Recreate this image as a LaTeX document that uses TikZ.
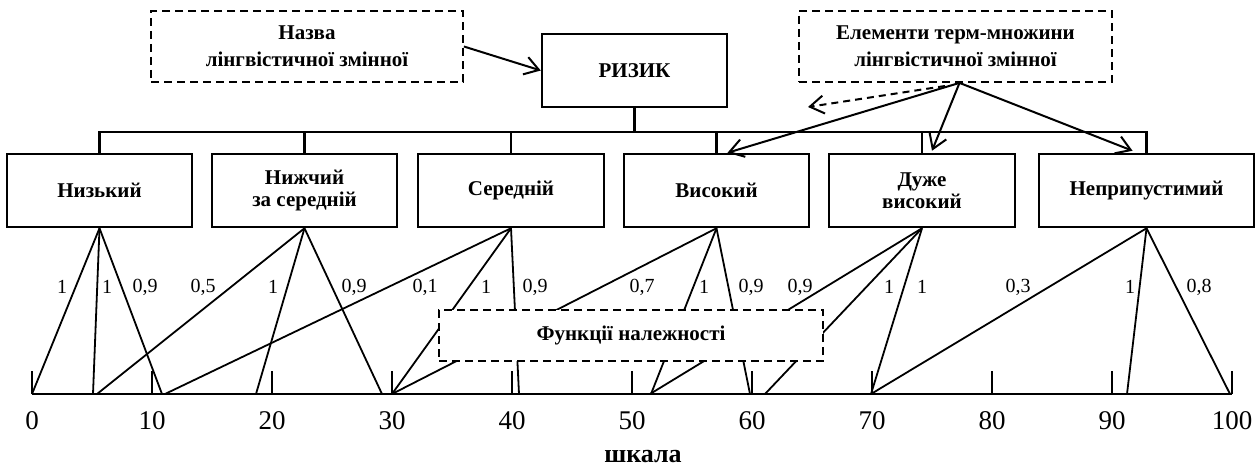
\documentclass[tikz,border=0pt]{standalone}
\usepackage{fontspec}
\setmainfont{Liberation Serif}
\usetikzlibrary{arrows.meta,calc}
\begin{document}
\begin{tikzpicture}[x=1pt,y=-1pt,
  box/.style={draw,line width=2.5pt,inner sep=0pt,align=center,font=\fontsize{21}{22}\selectfont\bfseries},
  dbox/.style={draw,dash pattern=on 8pt off 5pt,line width=1.8pt,inner sep=0pt,align=center,font=\fontsize{21}{27}\selectfont\bfseries},
  ln/.style={line width=1.8pt},
  bus/.style={line width=2.3pt},
  arr/.style={line width=2pt,-{Straight Barb[length=14pt,width=18pt,line width=2pt]}},
  lab/.style={inner sep=0pt,font=\fontsize{20}{20}\selectfont},
  num/.style={inner sep=0pt,font=\fontsize{27}{27}\selectfont},
]
\useasboundingbox (0,0) rectangle (1257,473);

% top boxes
\node[dbox,minimum width=312pt,minimum height=71pt] (nazva) at (307,46.5) {Назва\\лінгвістичної змінної};
\node[box,minimum width=185pt,minimum height=73pt] (riz) at (634.5,70.5) {РИЗИК};
\node[dbox,minimum width=313pt,minimum height=71pt] (el) at (955.5,46.5) {Елементи терм-множини\\лінгвістичної змінної};

% level boxes
\node[box,minimum width=185pt,minimum height=73pt] (n1) at (99.5,190.5) {Низький};
\node[box,minimum width=185pt,minimum height=73pt] (n2) at (304.5,190.5) {Нижчий\\за середній};
\node[box,minimum width=186pt,minimum height=73pt] (n3) at (511,190.5) {Середній};
\node[box,minimum width=185pt,minimum height=73pt] (n4) at (716.5,190.5) {Високий};
\node[box,minimum width=186pt,minimum height=73pt] (n5) at (922,190.5) {Дуже\\високий};
\node[box,minimum width=215pt,minimum height=73pt] (n6) at (1146.5,190.5) {Неприпустимий};

% tree bus
\coordinate (busy) at (632,132);
\draw[bus] (riz.south) -- (riz.south |- busy);
\draw[bus] (n1.north) -- (n1.north |- busy) -- (n6.north |- busy) -- (n6.north);
\foreach \n in {n2,n3,n4,n5} \draw[bus] (\n.north) -- (\n.north |- busy);

% arrows
\draw[arr] (nazva.east) -- (riz.west);
\draw[arr] ($(el.south)+(4,0)$) -- ($(n4.north)+(11,0)$);
\draw[arr] ($(el.south)+(4,0)$) -- ($(n5.north)+(10,-2)$);
\draw[arr] ($(el.south)+(4,0)$) -- ($(n6.north)+(-14,-2)$);
\coordinate (dsrc) at (945,86);
\coordinate (dtip) at (808,107);
\draw[arr,dash pattern=on 7pt off 5pt] (dsrc) -- (dtip);

% axis
\foreach \k in {0,...,10} {
  \coordinate (t\k) at ({32+120*\k},394);
  \draw[bus] (t\k) -- ++(0,-23);
  \pgfmathtruncatemacro\v{\k*10}
  \node[num] (v\k) at ({32+120*\k},421) {\v};
}
\draw[line width=2.5pt] (t0) -- (t10);
\node[inner sep=0pt,font=\fontsize{26}{26}\selectfont\bfseries] (sk) at (643,457) {шкала};

% membership lines
\foreach \a/\x in {n1/32,n1/93,n1/162,n2/97,n2/256,n2/382,n3/165,n3/392,n3/519,n4/392,n4/651,n4/750,n5/650,n5/765,n5/871,n6/871,n6/1127,n6/1230} {
  \coordinate (e\a\x) at (\x,394);
  \draw[ln] (\a.south) -- (e\a\x);
}

% membership labels
\foreach \i/\x/\t in {1/62/1,2/107/1,3/145/{0,9},4/203/{0,5},5/273/1,6/354/{0,9},7/425/{0,1},8/486/1,9/535/{0,9},10/642/{0,7},11/704/1,12/751/{0,9},13/800/{0,9},14/889/1,15/922/1,16/1018/{0,3},17/1130/1,18/1199/{0,8}}
  \node[lab] (l\i) at (\x,287) {\t};

% membership function box
\node[dbox,fill=white,minimum width=384pt,minimum height=51pt] (fn) at (631,335.5) {Функції належності};
\end{tikzpicture}
\end{document}
